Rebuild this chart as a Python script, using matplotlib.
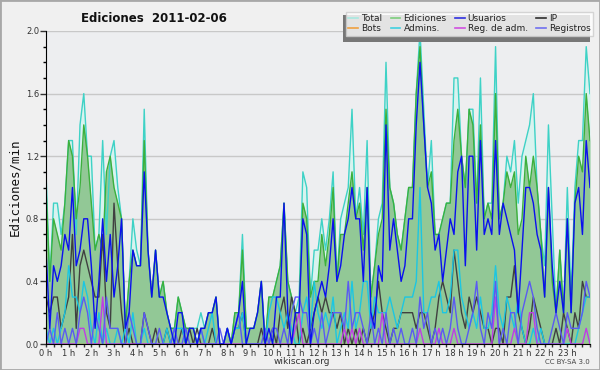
import numpy as np
import matplotlib
matplotlib.use("Agg")
import matplotlib.pyplot as plt
from matplotlib.lines import Line2D
from matplotlib.patches import Rectangle
from matplotlib.ticker import MultipleLocator, FixedLocator

# edits per minute, one value every 10 minutes (0h00 .. 24h00)
total = [1.1, 0.4, 0.9, 0.9, 0.7, 0.9, 1.3, 1.3, 0.7, 1.4, 1.6, 1.2, 1.2, 0.6, 0.7, 1.3, 0.7, 1.2, 1.3, 1.0, 0.8, 0.1, 0.4, 0.8, 0.6,
         0.5, 1.5, 0.6, 0.3, 0.6, 0.3, 0.4, 0.2, 0.1, 0.1, 0.3, 0.2, 0.1, 0.1, 0.1, 0.1, 0.2, 0.1, 0.2, 0.2, 0.3, 0.0, 0.0, 0.1,
         0.0, 0.2, 0.2, 0.7, 0.1, 0.1, 0.1, 0.2, 0.4, 0.0, 0.3, 0.3, 0.4, 0.5, 0.9, 0.4, 0.3, 0.2, 0.3, 1.1, 1.0, 0.3, 0.6, 0.6,
         0.8, 0.6, 0.8, 1.1, 0.4, 0.8, 0.9, 1.0, 1.5, 0.8, 1.0, 0.7, 1.3, 0.3, 0.5, 0.8, 0.9, 1.8, 1.0, 0.9, 0.7, 0.6, 0.8, 1.0,
         1.0, 1.6, 2.0, 1.5, 1.0, 1.3, 0.7, 0.7, 0.8, 0.9, 0.9, 1.7, 1.7, 1.2, 1.0, 1.5, 1.5, 0.9, 1.7, 0.8, 0.9, 0.9, 1.9, 0.8,
         0.9, 1.2, 1.1, 1.3, 0.9, 1.2, 1.3, 1.4, 1.6, 1.0, 0.7, 0.5, 1.4, 0.8, 0.2, 0.6, 0.2, 1.0, 0.3, 1.0, 1.3, 1.3, 1.9, 1.6]
ediciones = [1.0, 0.4, 0.8, 0.7, 0.6, 0.9, 1.3, 1.2, 0.8, 1.0, 1.4, 1.2, 0.9, 0.6, 0.7, 0.6, 1.1, 1.2, 1.0, 0.9, 0.8, 0.1, 0.4, 0.6, 0.5,
             0.5, 1.3, 0.6, 0.3, 0.6, 0.3, 0.4, 0.2, 0.1, 0.1, 0.3, 0.2, 0.1, 0.1, 0.1, 0.0, 0.1, 0.1, 0.2, 0.2, 0.3, 0.0, 0.0, 0.1,
             0.0, 0.2, 0.2, 0.6, 0.1, 0.1, 0.1, 0.2, 0.4, 0.0, 0.3, 0.3, 0.4, 0.5, 0.9, 0.4, 0.3, 0.2, 0.2, 0.9, 0.8, 0.3, 0.4, 0.4,
             0.7, 0.5, 0.7, 1.0, 0.4, 0.7, 0.7, 0.9, 1.1, 0.8, 0.9, 0.6, 1.0, 0.3, 0.5, 0.7, 0.8, 1.5, 1.0, 0.9, 0.7, 0.6, 0.8, 1.0,
             1.0, 1.6, 1.9, 1.4, 1.0, 1.1, 0.7, 0.7, 0.8, 0.9, 0.9, 1.3, 1.5, 1.2, 1.0, 1.5, 1.4, 0.9, 1.4, 0.8, 0.9, 0.8, 1.6, 0.8,
             0.9, 1.1, 1.0, 1.1, 0.7, 0.8, 1.2, 1.0, 1.2, 1.0, 0.7, 0.3, 1.0, 0.4, 0.2, 0.6, 0.2, 0.8, 0.2, 0.9, 1.2, 1.1, 1.6, 1.3]
usuarios = [0.6, 0.1, 0.5, 0.4, 0.5, 0.7, 0.6, 1.0, 0.5, 0.6, 0.8, 0.8, 0.5, 0.1, 0.4, 0.8, 0.4, 0.7, 0.3, 0.5, 0.8, 0.1, 0.2, 0.6, 0.5,
            0.5, 1.1, 0.6, 0.3, 0.6, 0.3, 0.3, 0.2, 0.1, 0.0, 0.2, 0.2, 0.0, 0.1, 0.1, 0.0, 0.1, 0.1, 0.2, 0.2, 0.3, 0.0, 0.0, 0.1,
            0.0, 0.1, 0.2, 0.4, 0.0, 0.1, 0.1, 0.2, 0.4, 0.0, 0.1, 0.0, 0.3, 0.3, 0.9, 0.2, 0.0, 0.2, 0.2, 0.8, 0.7, 0.0, 0.2, 0.3,
            0.4, 0.3, 0.5, 0.8, 0.4, 0.5, 0.7, 0.8, 1.0, 0.8, 0.8, 0.4, 1.0, 0.2, 0.1, 0.5, 0.4, 1.4, 0.6, 0.8, 0.6, 0.4, 0.5, 0.8,
            0.8, 1.4, 1.8, 1.4, 1.0, 0.9, 0.6, 0.7, 0.4, 0.6, 0.8, 0.7, 1.1, 1.2, 0.5, 1.2, 1.2, 0.6, 1.3, 0.7, 0.8, 0.7, 1.3, 0.7,
            0.9, 0.8, 0.7, 0.6, 0.2, 0.6, 1.0, 1.0, 0.9, 0.7, 0.6, 0.3, 1.0, 0.5, 0.2, 0.4, 0.2, 0.8, 0.2, 0.9, 1.0, 0.7, 1.3, 1.0]
ip = [0.3, 0.2, 0.3, 0.3, 0.1, 0.2, 0.3, 0.7, 0.1, 0.5, 0.6, 0.5, 0.4, 0.3, 0.3, 0.7, 0.2, 0.1, 0.9, 0.5, 0.2, 0.0, 0.1, 0.0, 0.0,
      0.0, 0.2, 0.1, 0.0, 0.1, 0.0, 0.0, 0.1, 0.0, 0.0, 0.0, 0.1, 0.0, 0.1, 0.0, 0.1, 0.0, 0.0, 0.0, 0.1, 0.0, 0.0, 0.0, 0.0,
      0.0, 0.1, 0.1, 0.2, 0.0, 0.0, 0.0, 0.0, 0.1, 0.0, 0.0, 0.1, 0.0, 0.2, 0.3, 0.1, 0.3, 0.2, 0.0, 0.1, 0.0, 0.1, 0.2, 0.3,
      0.2, 0.3, 0.2, 0.2, 0.1, 0.2, 0.0, 0.1, 0.0, 0.1, 0.0, 0.1, 0.0, 0.1, 0.2, 0.4, 0.2, 0.1, 0.0, 0.1, 0.1, 0.2, 0.2, 0.2,
      0.2, 0.1, 0.2, 0.2, 0.1, 0.0, 0.1, 0.3, 0.4, 0.3, 0.2, 0.6, 0.4, 0.2, 0.1, 0.3, 0.2, 0.3, 0.2, 0.1, 0.1, 0.0, 0.1, 0.1,
      0.0, 0.3, 0.3, 0.5, 0.2, 0.1, 0.0, 0.1, 0.3, 0.2, 0.1, 0.0, 0.0, 0.0, 0.1, 0.0, 0.2, 0.1, 0.0, 0.2, 0.1, 0.4, 0.3, 0.3]
bots = [0.0] * 145
admins = [0.1, 0.0, 0.1, 0.0, 0.1, 0.2, 0.5, 0.3, 0.3, 0.2, 0.4, 0.3, 0.1, 0.0, 0.2, 0.0, 0.1, 0.0, 0.0, 0.1, 0.0, 0.1, 0.0, 0.2, 0.0,
          0.0, 0.1, 0.0, 0.0, 0.0, 0.0, 0.0, 0.1, 0.0, 0.1, 0.1, 0.1, 0.0, 0.0, 0.0, 0.0, 0.1, 0.0, 0.1, 0.2, 0.0, 0.0, 0.0, 0.0,
          0.0, 0.1, 0.1, 0.2, 0.0, 0.0, 0.0, 0.0, 0.0, 0.0, 0.2, 0.3, 0.3, 0.2, 0.1, 0.2, 0.1, 0.0, 0.0, 0.2, 0.3, 0.1, 0.4, 0.2,
          0.1, 0.2, 0.1, 0.3, 0.0, 0.1, 0.2, 0.1, 0.4, 0.1, 0.2, 0.4, 0.4, 0.1, 0.3, 0.2, 0.2, 0.2, 0.3, 0.2, 0.1, 0.2, 0.3, 0.3,
          0.3, 0.4, 1.0, 0.2, 0.2, 0.3, 0.3, 0.4, 0.2, 0.2, 0.3, 0.6, 0.6, 0.3, 0.2, 0.1, 0.2, 0.1, 0.3, 0.1, 0.1, 0.2, 0.5, 0.2,
          0.1, 0.3, 0.2, 0.1, 0.3, 0.1, 0.0, 0.0, 0.1, 0.0, 0.1, 0.0, 0.0, 0.0, 0.0, 0.0, 0.0, 0.0, 0.0, 0.0, 0.1, 0.2, 0.3, 0.3]
reg_adm = [0.0, 0.0, 0.0, 0.0, 0.0, 0.0, 0.0, 0.0, 0.0, 0.1, 0.1, 0.0, 0.0, 0.0, 0.0, 0.3, 0.0, 0.0, 0.0, 0.0, 0.0, 0.0, 0.0, 0.0, 0.0,
           0.0, 0.0, 0.0, 0.0, 0.0, 0.0, 0.0, 0.0, 0.0, 0.0, 0.0, 0.0, 0.0, 0.0, 0.0, 0.0, 0.0, 0.0, 0.0, 0.0, 0.0, 0.0, 0.0, 0.0,
           0.0, 0.0, 0.0, 0.0, 0.0, 0.0, 0.0, 0.0, 0.0, 0.0, 0.0, 0.0, 0.0, 0.0, 0.0, 0.0, 0.0, 0.1, 0.2, 0.0, 0.0, 0.0, 0.0, 0.0,
           0.0, 0.0, 0.0, 0.0, 0.0, 0.0, 0.1, 0.0, 0.1, 0.0, 0.1, 0.0, 0.0, 0.0, 0.0, 0.0, 0.2, 0.0, 0.0, 0.0, 0.0, 0.0, 0.0, 0.0,
           0.0, 0.0, 0.1, 0.0, 0.0, 0.0, 0.0, 0.1, 0.0, 0.0, 0.0, 0.1, 0.0, 0.0, 0.0, 0.0, 0.0, 0.0, 0.0, 0.0, 0.0, 0.0, 0.3, 0.0,
           0.0, 0.0, 0.0, 0.1, 0.0, 0.0, 0.0, 0.2, 0.2, 0.0, 0.0, 0.0, 0.0, 0.0, 0.0, 0.0, 0.0, 0.1, 0.0, 0.0, 0.0, 0.0, 0.1, 0.0]
registros = [0.0, 0.1, 0.0, 0.2, 0.0, 0.1, 0.0, 0.1, 0.0, 0.2, 0.3, 0.2, 0.0, 0.2, 0.1, 0.0, 0.3, 0.1, 0.1, 0.1, 0.0, 0.0, 0.2, 0.1, 0.0,
             0.0, 0.2, 0.1, 0.0, 0.0, 0.1, 0.0, 0.0, 0.0, 0.1, 0.0, 0.0, 0.1, 0.0, 0.0, 0.0, 0.1, 0.0, 0.0, 0.0, 0.0, 0.1, 0.0, 0.1,
             0.0, 0.1, 0.2, 0.0, 0.0, 0.0, 0.0, 0.0, 0.0, 0.1, 0.0, 0.1, 0.1, 0.0, 0.1, 0.0, 0.2, 0.3, 0.3, 0.2, 0.2, 0.0, 0.1, 0.0,
             0.2, 0.0, 0.1, 0.2, 0.2, 0.2, 0.1, 0.4, 0.1, 0.2, 0.2, 0.1, 0.0, 0.2, 0.0, 0.1, 0.0, 0.2, 0.0, 0.1, 0.0, 0.1, 0.0, 0.0,
             0.1, 0.0, 0.3, 0.1, 0.2, 0.0, 0.1, 0.0, 0.1, 0.0, 0.1, 0.3, 0.1, 0.0, 0.0, 0.1, 0.2, 0.4, 0.1, 0.0, 0.2, 0.1, 0.4, 0.0,
             0.1, 0.0, 0.2, 0.2, 0.0, 0.2, 0.3, 0.4, 0.3, 0.1, 0.0, 0.0, 0.0, 0.1, 0.2, 0.1, 0.0, 0.2, 0.1, 0.1, 0.1, 0.2, 0.4, 0.3]

hour_labels = ["%d h" % h for h in range(24)]

x = np.arange(len(total)) / 6.0

fig = plt.figure(figsize=(6, 3.7), dpi=100, facecolor='#f0f0f0')
ax = fig.add_axes([46/600, 1-344/370, 544/600, 313/370])
ax.set_facecolor('#edeef0')

ax.fill_between(x, 0, total, color='#d8f3ef', lw=0, zorder=1)
ax.fill_between(x, 0, ediciones, color='#92c896', lw=0, zorder=1)

lw = 1.0
ax.plot(x, total, color='#3ed2c6', lw=lw, zorder=3)
ax.plot(x, ediciones, color='#3cb03c', lw=lw, zorder=3)
ax.plot(x, bots, color='#f0a030', lw=lw, zorder=3)
ax.plot(x, ip, color='#404040', lw=lw, zorder=4)
ax.plot(x, admins, color='#1cc6e2', lw=lw, zorder=4)
ax.plot(x, reg_adm, color='#c03ce6', lw=lw, zorder=4)
ax.plot(x, registros, color='#5a5af2', lw=lw, zorder=4)
ax.plot(x, usuarios, color='#0a10ee', lw=lw, zorder=5)

ax.set_xlim(0, 24)
ax.set_ylim(0, 2.0)
ax.yaxis.set_major_locator(MultipleLocator(0.4))
ax.yaxis.set_minor_locator(MultipleLocator(0.1))
ax.xaxis.set_major_locator(FixedLocator(range(24)))
ax.xaxis.set_minor_locator(MultipleLocator(1/3))
ax.set_xticklabels(hour_labels)
ax.yaxis.set_major_formatter(matplotlib.ticker.FormatStrFormatter('%.1f'))
ax.grid(axis='y', color='#c8c8c8', lw=1)
ax.set_axisbelow(True)
for s in ['top', 'right']:
    ax.spines[s].set_visible(False)
ax.spines['left'].set_zorder(6)
ax.spines['bottom'].set_zorder(6)
ax.tick_params(axis='y', which='major', length=4, width=1, labelsize=6, pad=1, colors='#333333')
ax.tick_params(axis='y', which='minor', length=2, width=1)
ax.tick_params(axis='x', which='both', length=2.5, width=1, labelsize=6, pad=1, colors='#333333')

ax.set_ylabel('Ediciones/min', family='DejaVu Sans Mono', fontsize=9, color='#111111', labelpad=3)

fig.text(154/600, 1-18/370, 'Ediciones  2011-02-06', ha='center', va='center',
         fontsize=8.5, fontweight='bold', color='#111111')
fig.text(302/600, 1-361/370, 'wikiscan.org', ha='center', va='center', fontsize=6.5, color='#333333')
fig.text(590/600, 1-362/370, 'CC BY-SA 3.0', ha='right', va='center', fontsize=5, color='#444444')

handles = [Line2D([], [], color='#a8e8e0', lw=1.2), Line2D([], [], color='#f0a040', lw=1.2),
           Line2D([], [], color='#7cce7c', lw=1.2), Line2D([], [], color='#40d0e0', lw=1.2),
           Line2D([], [], color='#3030e0', lw=1.2), Line2D([], [], color='#d050e0', lw=1.2),
           Line2D([], [], color='#303030', lw=1.2), Line2D([], [], color='#7070f0', lw=1.2)]
labels = ['Total', 'Bots', 'Ediciones', 'Admins.', 'Usuarios', 'Reg. de adm.', 'IP', 'Registros']
leg = fig.legend(handles, labels, ncol=4, loc='upper left', mode='expand',
                 bbox_to_anchor=(345.7/600, 1-37.3/370, 247.6/600, 25.6/370),
                 fontsize=6.5, frameon=True, fancybox=False, handlelength=1.1, handletextpad=0.35,
                 columnspacing=0.3, borderpad=0.3, labelspacing=0.05, borderaxespad=0)
leg.get_frame().set_edgecolor('#cccccc')
leg.get_frame().set_linewidth(1)
leg.set_zorder(10)
for t in leg.get_texts():
    t.set_color('#222222')

fig.patches.append(Rectangle((342.7/600, 1-41.7/370), 247.3/600, 26.7/370, transform=fig.transFigure,
                             facecolor='#777777', edgecolor='none', zorder=9))
fig.patches.append(Rectangle((0, 0), 1, 1, transform=fig.transFigure, fill=False,
                             edgecolor='#a8a8a8', lw=2, zorder=20))

fig.savefig('out.png', dpi=100, facecolor=fig.get_facecolor())
